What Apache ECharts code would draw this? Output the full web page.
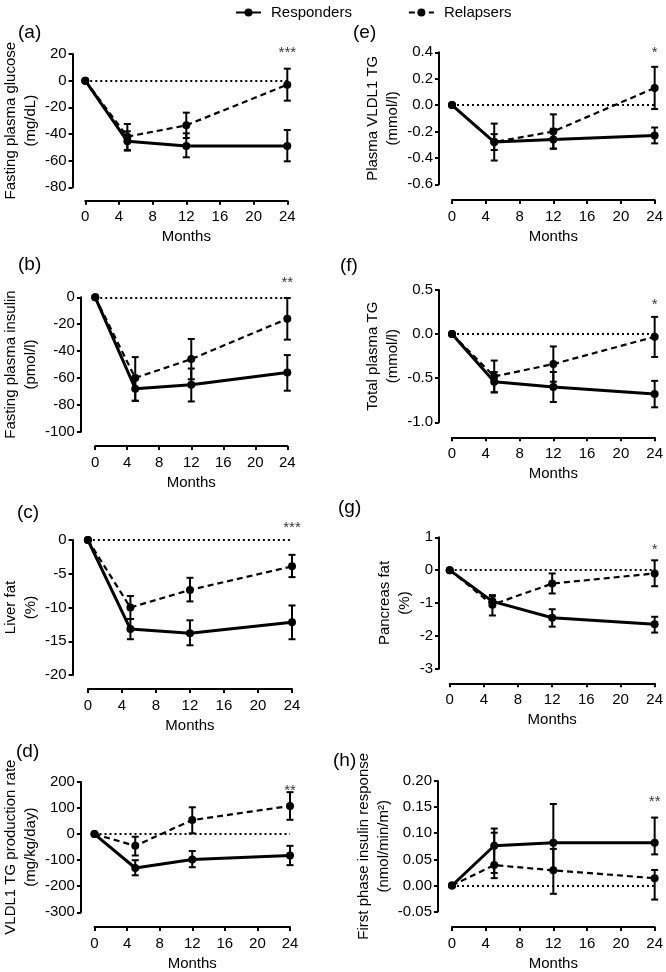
<!DOCTYPE html>
<html><head><meta charset="utf-8">
<script src="https://cdn.jsdelivr.net/npm/echarts@6/dist/echarts.min.js"></script>
<style>html,body{margin:0;padding:0;background:#fff}#c{width:666px;height:972px}</style>
</head><body><div id="c"></div>
<script>
// ---------- data ----------
const months = [0, 5, 12, 24];
const seriesNames = ['Responders', 'Relapsers'];

// (a) Fasting plasma glucose (mg/dL)
const glucoseResp   = [0, -45.5, -49, -49];
const glucoseRespLo = [0, -52.5, -57.5, -60.5];
const glucoseRespHi = [0, -38, -39.5, -37];
const glucoseRel    = [0, -42, -33.5, -3];
const glucoseRelLo  = [0, -52, -43, -15];
const glucoseRelHi  = [0, -32.5, -24, 9];

// (b) Fasting plasma insulin (pmol/l)
const insulinResp   = [0, -68, -65, -56];
const insulinRespLo = [0, -77, -77.5, -69.5];
const insulinRespHi = [0, -59, -53, -43];
const insulinRel    = [0, -60, -46, -16];
const insulinRelLo  = [0, -77, -61, -31.5];
const insulinRelHi  = [0, -44.5, -31, -0.5];

// (c) Liver fat (%)
const liverResp   = [0, -13.2, -13.8, -12.2];
const liverRespLo = [0, -14.7, -15.6, -14.7];
const liverRespHi = [0, -11.7, -11.9, -9.7];
const liverRel    = [0, -10, -7.4, -3.9];
const liverRelLo  = [0, -11.7, -9.1, -5.5];
const liverRelHi  = [0, -8.3, -5.6, -2.2];

// (d) VLDL1 TG production rate (mg/kg/day)
const prodResp   = [0, -130, -97, -82];
const prodRespLo = [0, -158, -127, -119];
const prodRespHi = [0, -100, -65, -45];
const prodRel    = [0, -45, 54, 108];
const prodRelLo  = [0, -82, 3, 55];
const prodRelHi  = [0, -10, 103, 161];

// (e) Plasma VLDL1 TG (mmol/l)
const vldlResp   = [0, -0.28, -0.26, -0.23];
const vldlRespLo = [0, -0.34, -0.33, -0.29];
const vldlRespHi = [0, -0.22, -0.18, -0.17];
const vldlRel    = [0, -0.28, -0.20, 0.13];
const vldlRelLo  = [0, -0.42, -0.33, -0.03];
const vldlRelHi  = [0, -0.14, -0.07, 0.29];

// (f) Total plasma TG (mmol/l)
const tgResp   = [0, -0.54, -0.60, -0.68];
const tgRespLo = [0, -0.66, -0.77, -0.83];
const tgRespHi = [0, -0.43, -0.43, -0.53];
const tgRel    = [0, -0.48, -0.34, -0.03];
const tgRelLo  = [0, -0.66, -0.54, -0.26];
const tgRelHi  = [0, -0.30, -0.14, 0.195];

// (g) Pancreas fat (%)
const pancResp   = [0, -0.95, -1.45, -1.65];
const pancRespLo = [0, -1.1, -1.72, -1.9];
const pancRespHi = [0, -0.8, -1.19, -1.42];
const pancRel    = [0, -1.05, -0.41, -0.1];
const pancRelLo  = [0, -1.38, -0.71, -0.49];
const pancRelHi  = [0, -0.76, -0.1, 0.3];

// (h) First phase insulin response (nmol/min/m2)
const fpirResp   = [0, 0.076, 0.082, 0.082];
const fpirRespLo = [0, 0.024, 0.03, 0.0595];
const fpirRespHi = [0, 0.109, 0.156, 0.130];
const fpirRel    = [0, 0.039, 0.029, 0.014];
const fpirRelLo  = [0, 0.014, -0.016, -0.027];
const fpirRelHi  = [0, 0.101, 0.07, 0.0297];

// significance marks at 24 months and their height (data units)
const sigMarks  = ['***', '**', '***', '**', '*', '*', '*', '**'];
const sigHeight = [23, 12.9, 2.2, 177, 0.415, 0.36, 0.70, 0.165];

// y-axis ranges / tick steps
const yMins  = [-80, -100, -20, -300, -0.6, -1.0, -3, -0.05];
const yMaxs  = [20, 0, 0, 200, 0.4, 0.5, 1, 0.20];
const ySteps = [20, 20, 5, 100, 0.2, 0.5, 1, 0.05];
const yDecimals = [0, 0, 0, 0, 1, 1, 0, 2];
const xTickStep = 4;

const panelLabels = ['(a)', '(b)', '(c)', '(d)', '(e)', '(f)', '(g)', '(h)'];
const yTitles = [
  'Fasting plasma glucose\n(mg/dL)',
  'Fasting plasma insulin\n(pmol/l)',
  'Liver fat\n(%)',
  'VLDL1 TG production rate\n(mg/kg/day)',
  'Plasma VLDL1 TG\n(mmol/l)',
  'Total plasma TG\n(mmol/l)',
  'Pancreas fat\n(%)',
  'First phase insulin response\n(nmol/min/m\u00B2)'
];
const xTitle = 'Months';

const respData = [
  [glucoseResp, glucoseRespLo, glucoseRespHi],
  [insulinResp, insulinRespLo, insulinRespHi],
  [liverResp, liverRespLo, liverRespHi],
  [prodResp, prodRespLo, prodRespHi],
  [vldlResp, vldlRespLo, vldlRespHi],
  [tgResp, tgRespLo, tgRespHi],
  [pancResp, pancRespLo, pancRespHi],
  [fpirResp, fpirRespLo, fpirRespHi]
];
const relData = [
  [glucoseRel, glucoseRelLo, glucoseRelHi],
  [insulinRel, insulinRelLo, insulinRelHi],
  [liverRel, liverRelLo, liverRelHi],
  [prodRel, prodRelLo, prodRelHi],
  [vldlRel, vldlRelLo, vldlRelHi],
  [tgRel, tgRelLo, tgRelHi],
  [pancRel, pancRelLo, pancRelHi],
  [fpirRel, fpirRelLo, fpirRelHi]
];

// ---------- layout (pixels) ----------
const layout = [
  {x0: 80.7, x24: 287.3, top: 54,    bot: 187.3, yax: 68,   xax: 200.7, gap: 30, lx: 18,  ly: 23},
  {x0: 79.3, x24: 287.3, top: 297.3, bot: 431.7, yax: 65,   xax: 446,   gap: 28, lx: 18,  ly: 255},
  {x0: 83.3, x24: 292,   top: 540,   bot: 675,   yax: 68,   xax: 689,   gap: 29, lx: 17,  ly: 503},
  {x0: 84.3, x24: 290,   top: 782,   bot: 914.3, yax: 70.7, xax: 929,   gap: 33, lx: 16,  ly: 742},
  {x0: 452,  x24: 658,   top: 52.3,  bot: 184.3, yax: 439,  xax: 200,   gap: 31, lx: 353, ly: 23},
  {x0: 452,  x24: 658,   top: 290,   bot: 422.3, yax: 439,  xax: 437.3, gap: 31, lx: 340, ly: 256},
  {x0: 449.7,x24: 655.7, top: 537.3, bot: 668.7, yax: 439,  xax: 683.3, gap: 24, lx: 338, ly: 498},
  {x0: 452,  x24: 656.3, top: 781,   bot: 913.3, yax: 438,  xax: 928.7, gap: 33, lx: 333, ly: 751}
];

const FONT = '"Liberation Sans", Arial, Helvetica, sans-serif';
const BLACK = '#000';

function errItem(params, api) {
  const x = api.value(0), lo = api.value(1), hi = api.value(2);
  if (lo === hi) return {type: 'group', children: []};
  const p1 = api.coord([x, lo]), p2 = api.coord([x, hi]);
  const w = 3.5;
  const st = {stroke: BLACK, lineWidth: 2};
  return {type: 'group', children: [
    {type: 'line', shape: {x1: p1[0], y1: p1[1], x2: p2[0], y2: p2[1]}, style: st},
    {type: 'line', shape: {x1: p1[0] - w, y1: p1[1], x2: p1[0] + w, y2: p1[1]}, style: st},
    {type: 'line', shape: {x1: p2[0] - w, y1: p2[1], x2: p2[0] + w, y2: p2[1]}, style: st}
  ]};
}

const grids = [], xAxes = [], yAxes = [], series = [], titles = [];
layout.forEach((L, i) => {
  grids.push({left: L.x0, top: L.top, width: L.x24 - L.x0, height: L.bot - L.top, containLabel: false});
  const axisCommon = {
    axisLine: {show: true, onZero: false, lineStyle: {color: BLACK, width: 2}},
    axisTick: {show: true, length: 4, lineStyle: {color: BLACK, width: 2}},
    splitLine: {show: false}
  };
  xAxes.push(Object.assign({
    gridIndex: i, type: 'value', min: 0, max: 24, interval: xTickStep,
    offset: L.xax - L.bot,
    axisLabel: {fontSize: 15, color: BLACK, margin: 9, fontFamily: FONT},
    name: xTitle, nameLocation: 'middle', nameGap: 29,
    nameTextStyle: {fontSize: 15, color: BLACK, fontFamily: FONT}
  }, axisCommon));
  const dec = yDecimals[i];
  yAxes.push(Object.assign({
    gridIndex: i, type: 'value', min: yMins[i], max: yMaxs[i], interval: ySteps[i],
    offset: L.x0 - L.yax,
    axisLabel: {fontSize: 15, color: BLACK, margin: 6, fontFamily: FONT,
      formatter: v => Number(v).toFixed(dec)},
    name: yTitles[i], nameLocation: 'middle', nameRotate: 90, nameGap: L.gap,
    nameTextStyle: {fontSize: 15, lineHeight: 20, color: BLACK, fontFamily: FONT, align: 'center'}
  }, axisCommon));
  titles.push({text: panelLabels[i], left: L.lx, top: L.ly, padding: 0,
    textStyle: {fontSize: 19, fontWeight: 'normal', color: BLACK, fontFamily: FONT}});

  const r = respData[i], q = relData[i];
  series.push({
    type: 'custom', name: 'resp-err-' + i, xAxisIndex: i, yAxisIndex: i,
    renderItem: errItem, encode: {x: 0, y: [1, 2]},
    data: months.map((m, k) => [m, r[1][k], r[2][k]]), silent: true, z: 3
  });
  series.push({
    type: 'custom', name: 'rel-err-' + i, xAxisIndex: i, yAxisIndex: i,
    renderItem: errItem, encode: {x: 0, y: [1, 2]},
    data: months.map((m, k) => [m, q[1][k], q[2][k]]), silent: true, z: 3
  });
  series.push({
    type: 'line', name: seriesNames[1], xAxisIndex: i, yAxisIndex: i,
    data: months.map((m, k) => [m, q[0][k]]),
    symbol: 'circle', symbolSize: 8, itemStyle: {color: BLACK},
    lineStyle: {color: BLACK, width: 2.2, type: [6, 4]}, z: 4
  });
  series.push({
    type: 'line', name: seriesNames[0], xAxisIndex: i, yAxisIndex: i,
    data: months.map((m, k) => [m, r[0][k]]),
    symbol: 'circle', symbolSize: 8, itemStyle: {color: BLACK},
    lineStyle: {color: BLACK, width: 3}, z: 5,
    markLine: {
      silent: true, symbol: ['none', 'none'], label: {show: false},
      lineStyle: {color: BLACK, width: 2, type: [2, 3]},
      data: [{yAxis: 0}]
    }
  });
  // significance annotation at 24 months
  series.push({
    type: 'scatter', name: 'sig-' + i, xAxisIndex: i, yAxisIndex: i,
    clip: false, silent: true, symbolSize: 1, itemStyle: {color: 'rgba(0,0,0,0)'},
    label: {show: true, position: 'inside', formatter: sigMarks[i], fontSize: 15,
      color: BLACK, fontFamily: FONT, offset: [0, 3]},
    data: [[months[months.length - 1], sigHeight[i]]], z: 6
  });
});

const chart = echarts.init(document.getElementById('c'), null, {renderer: 'canvas'});
chart.setOption({
  animation: false,
  backgroundColor: '#fff',
  textStyle: {fontFamily: FONT},
  title: titles,
  legend: {
    data: seriesNames, left: 230, top: 0, itemWidth: 25, itemHeight: 10, itemGap: 56,
    textStyle: {fontSize: 15, color: BLACK, fontFamily: FONT, padding: [0, 0, 0, 5]},
    selectedMode: false
  },
  grid: grids, xAxis: xAxes, yAxis: yAxes, series: series
});
</script>
</body></html>
